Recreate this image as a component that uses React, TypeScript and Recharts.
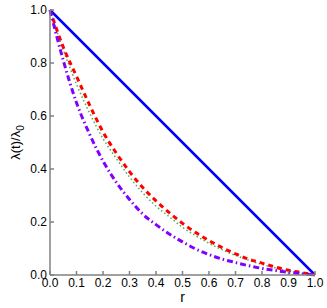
import { LineChart, Line, XAxis, YAxis } from 'recharts'

const R = [0, 0.05, 0.1, 0.15, 0.2, 0.25, 0.3, 0.35, 0.4, 0.45, 0.5, 0.55, 0.6, 0.65, 0.7, 0.75, 0.8, 0.85, 0.9, 0.95, 1]
const LINEAR = [1, 0.95, 0.9, 0.85, 0.8, 0.75, 0.7, 0.65, 0.6, 0.55, 0.5, 0.45, 0.4, 0.35, 0.3, 0.25, 0.2, 0.15, 0.1, 0.05, 0]
const DASHED = [1, 0.86, 0.75, 0.64, 0.54, 0.46, 0.39, 0.33, 0.28, 0.235, 0.195, 0.16, 0.13, 0.103, 0.08, 0.06, 0.045, 0.03, 0.018, 0.009, 0]
const DOTTED = [1, 0.85, 0.72, 0.61, 0.515, 0.44, 0.37, 0.31, 0.26, 0.22, 0.18, 0.148, 0.12, 0.095, 0.074, 0.056, 0.04, 0.027, 0.016, 0.007, 0]
const DASHDOT = [1, 0.81, 0.65, 0.53, 0.43, 0.35, 0.285, 0.23, 0.19, 0.155, 0.125, 0.098, 0.077, 0.06, 0.047, 0.035, 0.025, 0.017, 0.01, 0.005, 0]

const X_TICKS = [0, 0.1, 0.2, 0.3, 0.4, 0.5, 0.6, 0.7, 0.8, 0.9, 1]
const Y_TICKS = [0, 0.2, 0.4, 0.6, 0.8, 1]

const data = R.map((r, i) => ({
  r,
  linear: LINEAR[i],
  dashed: DASHED[i],
  dotted: DOTTED[i],
  dashdot: DASHDOT[i],
}))

const AXIS = '#808080'
const FONT = 'Liberation Sans, Arial, sans-serif'
const tickStyle = { fill: '#000', fontSize: 12, fontFamily: FONT }

function YLabel(props: any) {
  const vb = props.viewBox || { x: 0, y: 0, width: 50, height: 265 }
  const cx = vb.x + 20
  const cy = vb.y + vb.height / 2
  return (
    <text
      x={cx}
      y={cy}
      transform={`rotate(-90 ${cx} ${cy})`}
      textAnchor="middle"
      fontSize={13}
      fontFamily={FONT}
      fill="#000"
    >
      λ(t)/λ<tspan fontSize={10} dy={4}>0</tspan>
    </text>
  )
}

function XLabel(props: any) {
  const vb = props.viewBox || { x: 50, y: 275, width: 265, height: 33 }
  return (
    <text x={vb.x + vb.width / 2} y={vb.y + 27} textAnchor="middle" fontSize={14} fontFamily={FONT} fill="#000">
      r
    </text>
  )
}

export default function App() {
  return (
    <div style={{ width: 327, height: 308 }}>
      <style>{'body{margin:0}'}</style>
      <LineChart width={327} height={308} data={data} margin={{ top: 10, right: 12, bottom: 0, left: 0 }}>
        <XAxis
          dataKey="r"
          type="number"
          domain={[0, 1]}
          ticks={X_TICKS}
          tickFormatter={v => v.toFixed(1)}
          tick={tickStyle}
          tickSize={-4}
          tickMargin={7}
          stroke={AXIS}
          strokeWidth={1.5}
          height={33}
          label={<XLabel />}
        />
        <XAxis
          xAxisId="top"
          orientation="top"
          dataKey="r"
          type="number"
          domain={[0, 1]}
          ticks={X_TICKS}
          tickFormatter={() => ''}
          tickSize={-4}
          stroke={AXIS}
          strokeWidth={1.5}
          height={0}
        />
        <YAxis
          type="number"
          domain={[0, 1]}
          ticks={Y_TICKS}
          tickFormatter={v => v.toFixed(1)}
          tick={tickStyle}
          tickSize={-4}
          tickMargin={7}
          stroke={AXIS}
          strokeWidth={1.5}
          width={50}
          label={<YLabel />}
        />
        <YAxis
          yAxisId="right"
          orientation="right"
          type="number"
          domain={[0, 1]}
          ticks={Y_TICKS}
          tickFormatter={() => ''}
          tickSize={-4}
          stroke={AXIS}
          strokeWidth={1.5}
          width={0}
        />
        <Line dataKey="linear" stroke="#0000ff" strokeWidth={2.5} dot={false} isAnimationActive={false} />
        <Line type="monotone" dataKey="dotted" stroke="#4caf50" strokeWidth={1.5} strokeDasharray="1.5 2.5" dot={false} isAnimationActive={false} />
        <Line type="monotone" dataKey="dashed" stroke="#ff0000" strokeWidth={3} strokeDasharray="5 4" dot={false} isAnimationActive={false} />
        <Line type="monotone" dataKey="dashdot" stroke="#8000ff" strokeWidth={3} strokeDasharray="6 3 1.5 3" dot={false} isAnimationActive={false} />
      </LineChart>
    </div>
  )
}
